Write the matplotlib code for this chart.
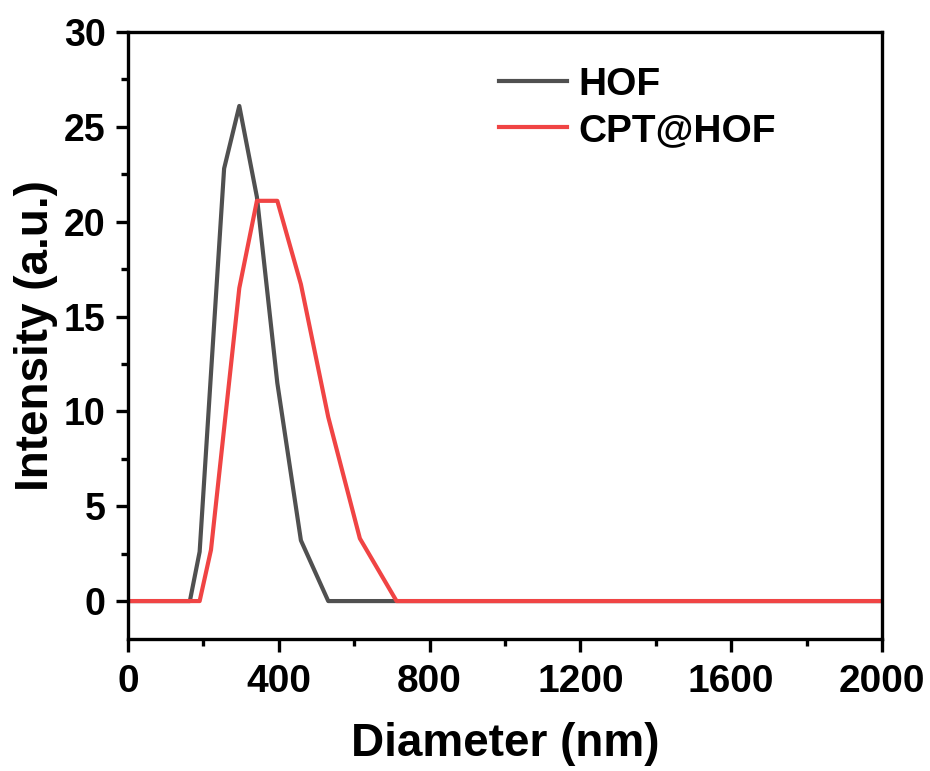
import numpy as np
import matplotlib
matplotlib.use('Agg')
import matplotlib.pyplot as plt
from matplotlib.ticker import MultipleLocator

# DLS size distribution (Malvern bins, nm)
d_hof = [0, 141.8, 164.2, 190.1, 220.2, 255.0, 295.3, 342.0, 396.1, 458.7, 531.2, 615.1, 712.4, 2000]
i_hof = [0, 0, 0, 2.6, 12.0, 22.8, 26.1, 21.3, 11.5, 3.2, 0, 0, 0, 0]

d_cpt = [0, 164.2, 190.1, 220.2, 255.0, 295.3, 342.0, 396.1, 458.7, 531.2, 615.1, 712.4, 825.0, 2000]
i_cpt = [0, 0, 0, 2.7, 9.1, 16.5, 21.1, 21.1, 16.7, 9.7, 3.3, 0, 0, 0]

labels = ['HOF', 'CPT@HOF']
colors = ['#505050', '#f04444']

plt.rcParams['font.family'] = ['Liberation Sans', 'DejaVu Sans']
plt.rcParams['font.weight'] = 'bold'

fig = plt.figure(figsize=(9.30, 7.71), dpi=100)
ax = fig.add_axes([0.1376, 0.1712, 0.8108, 0.7873])

ax.plot(d_hof, i_hof, color=colors[0], lw=3.0, label=labels[0])
ax.plot(d_cpt, i_cpt, color=colors[1], lw=3.0, label=labels[1])

ax.set_xlim(0, 2000)
ax.set_ylim(-2, 30)
ax.xaxis.set_major_locator(MultipleLocator(400))
ax.xaxis.set_minor_locator(MultipleLocator(200))
ax.yaxis.set_major_locator(MultipleLocator(5))
ax.yaxis.set_minor_locator(MultipleLocator(2.5))

for s in ax.spines.values():
    s.set_linewidth(2.4)
ax.tick_params(which='major', direction='out', length=9, width=2.4)
ax.tick_params(which='minor', direction='out', length=5, width=2.4)
ax.tick_params(axis='x', pad=9, labelsize=28)
ax.tick_params(axis='y', pad=7, labelsize=27)

ax.set_xlabel('Diameter (nm)', fontsize=33, fontweight='bold', labelpad=16)
ax.set_ylabel('Intensity (a.u.)', fontsize=33, fontweight='bold', labelpad=4)

leg = ax.legend(loc='upper left', bbox_to_anchor=(0.445, 1.0), frameon=False,
                prop={'size': 28, 'weight': 'bold'}, handlelength=1.75,
                handletextpad=0.3, labelspacing=0.25)

fig.savefig('out.png', dpi=100)
